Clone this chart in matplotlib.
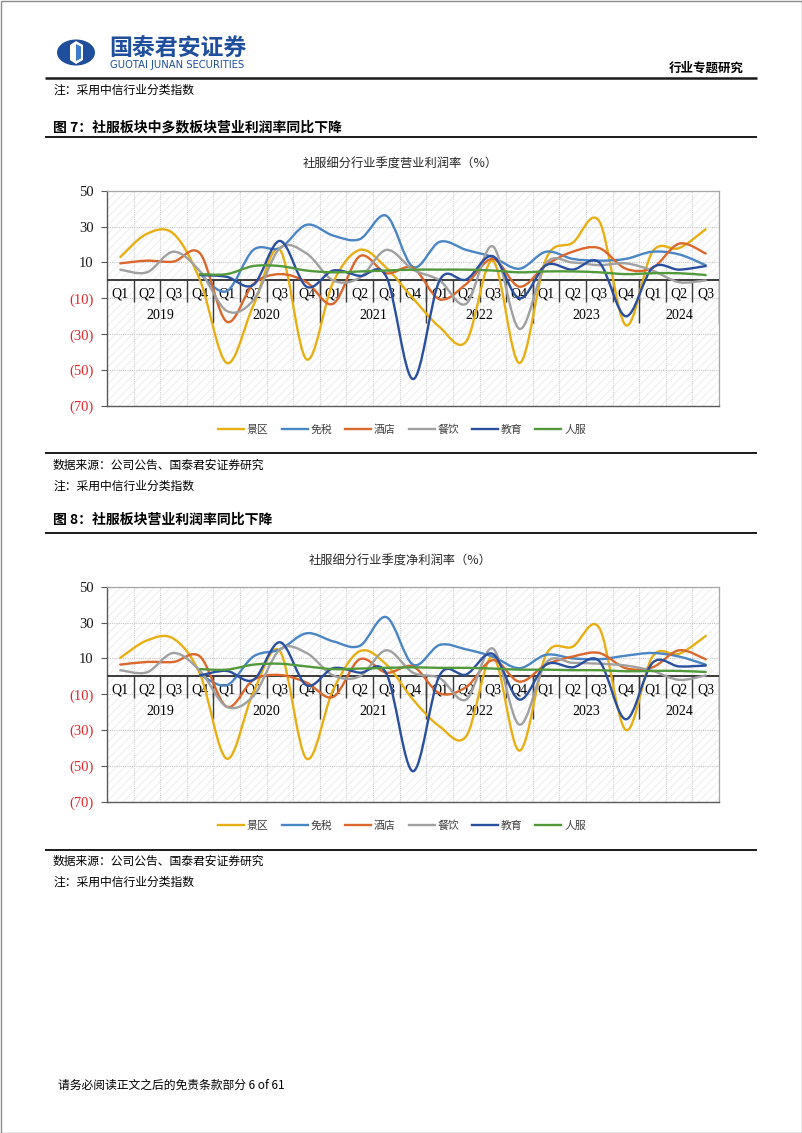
import numpy as np
import matplotlib.pyplot as plt
from matplotlib.path import Path
from matplotlib.patches import PathPatch, Rectangle, Ellipse, Polygon
from matplotlib.lines import Line2D

CJK = ['Noto Sans CJK SC', 'DejaVu Sans']
SERIF = ['Liberation Serif', 'DejaVu Serif']

# --- data ---
quarters = ['Q1', 'Q2', 'Q3', 'Q4'] * 5 + ['Q1', 'Q2', 'Q3']
years = ['2019', '2020', '2021', '2022', '2023', '2024']
names = ['景区', '免税', '酒店', '餐饮', '教育', '人服']
colors = ['#E8AF14', '#4A85C4', '#DA672C', '#A0A0A0', '#2B4F9F', '#52993C']
N = None

# 图7 营业利润率 (%)
op_jingqu = [13, 26, 26, 0, -46, -14, 17, -44, -1, 17, 7, -10, -26, -34, 11, -46, 12, 21, 33, -25, 16, 18, 28.5]
op_mianshui = [N, N, N, 3.5, -6, 17, 18, 31, 25, 23, 36, 7.5, 21.5, 17, 13, 6.5, 16, 12, 11, 12, 16, 14.5, 8.5]
op_jiudian = [9.5, 11, 10.5, 15, -23, -2, 3.5, -1, -13, 13.5, 4, 7, -10.5, -2, 12, -3.5, 8.5, 16, 18, 6.5, 7, 20.5, 15]
op_canyin = [6, 4.5, 16, 5, -17, -11, 18, 15, 0, 1.5, 17, 6, 0, -13, 19, -27, 9.5, 10, 8.5, 9.5, 5.5, -1, 0]
op_jiaoyu = [N, N, N, 3, 2, -2.5, 22, -3.5, 5.5, 2.5, 2, -55, 0, 0.5, 13.5, -10, 8.5, 6, 10, -20, 7, 6, 8]
op_renfu = [N, N, N, 3.5, 3.5, 8, 8, 5.5, 4.5, 5, 5.5, 6, 6, 6, 5.5, 4.5, 5, 5, 4.5, 3.5, 4, 4, 3]

# 图8 净利润率 (%)
net_jingqu = [10.3, 20, 21, 1, -46, -9, 14, -46, -7.5, 14, 6.5, -13, -28, -33.5, 11, -41.5, 12, 16.5, 27, -30, 11, 12.5, 22.5]
net_mianshui = [N, N, N, 1, -5, 11, 15, 24, 19.5, 17, 33, 6.5, 17.5, 15, 11, 4.5, 12, 10, 9.5, 11.5, 13, 11, 6.5]
net_jiudian = [6.5, 8, 8, 11, -17, -2, 0.7, -3.5, -11.5, 9.5, 2, 5.5, -9.5, -6, 9, -3, 6.5, 11, 13, 4.5, 5, 14.5, 9.5]
net_canyin = [3.4, 2.2, 13, 3, -17, -11, 15, 13, 0.5, 0, 14.5, 2, -1, -13, 15.5, -27, 7.5, 7.5, 7, 6, 3, -2, 0.5]
net_jiaoyu = [N, N, N, 0.5, 3, -2, 19, -5, 4.5, 2, 1.5, -53, 0.5, 1, 12.5, -13, 6.5, 5, 8.5, -24, 7.5, 5.5, 6]
net_renfu = [N, N, N, 4, 3.7, 6.5, 7, 5.5, 4, 4.3, 4.7, 5, 4.7, 4.7, 4.3, 3.7, 3.7, 3.4, 3.4, 2.8, 3, 3, 2.4]

op_series = [op_jingqu, op_mianshui, op_jiudian, op_canyin, op_jiaoyu, op_renfu]
net_series = [net_jingqu, net_mianshui, net_jiudian, net_canyin, net_jiaoyu, net_renfu]

W, H = 802, 1133


def smooth_path(xs, ys):
    # excel-like smoothed line: bezier segments through the data points
    pts = np.column_stack([xs, ys]).astype(float)
    n = len(pts)
    verts = [pts[0]]
    codes = [Path.MOVETO]
    for i in range(n - 1):
        p0 = pts[max(i - 1, 0)]
        p1, p2 = pts[i], pts[i + 1]
        p3 = pts[min(i + 2, n - 1)]
        verts += [p1 + (p2 - p0) / 6, p2 - (p3 - p1) / 6, p2]
        codes += [Path.CURVE4] * 3
    return Path(verts, codes)


def draw_chart(ax, series):
    n = len(quarters)
    ax.set_xlim(-0.5, n - 0.5)
    ax.set_ylim(-70, 50)
    ax.add_patch(Rectangle((0, 0), 1, 1, transform=ax.transAxes, facecolor='white',
                           edgecolor='#F2F2F2', lw=0, hatch='////', zorder=0))
    bounds = np.arange(n + 1) - 0.5
    for b in bounds[1:-1]:
        ax.axvline(b, color='#D2D2D2', lw=0.8, ls=(0, (1, 1)), zorder=1)
    for yv in range(-50, 50, 20):
        ax.axhline(yv, color='#C8C8C8', lw=0.8, ls=(0, (1, 1)), zorder=1)

    # category axis crossing at zero
    ax.axhline(0, color='#3A3A3A', lw=1.4, zorder=3)
    ax.vlines(bounds[1:-1], -12, 0, color='#3A3A3A', lw=1.0, zorder=3)
    ax.vlines(bounds[4::4].tolist() + [bounds[-1]], -24, 0, color='#3A3A3A', lw=1.0, zorder=3)
    for i, q in enumerate(quarters):
        ax.text(i, -7.6, q, ha='center', va='center', fontsize=10, family=SERIF, zorder=3)
    for k, yr in enumerate(years):
        idx = [i for i in range(n) if i // 4 == k]
        ax.text(np.mean(idx), -19.7, yr, ha='center', va='center', fontsize=10,
                family=SERIF, zorder=3)

    x = np.arange(n)
    for vals, c in zip(series, colors):
        v = np.array([np.nan if t is None else t for t in vals], dtype=float)
        ok = ~np.isnan(v)
        ax.add_patch(PathPatch(smooth_path(x[ok], v[ok]), fill=False, edgecolor=c,
                               lw=1.7, zorder=4, capstyle='round', joinstyle='round'))

    ax.set_xticks([])
    yt = list(range(-70, 51, 20))
    ax.set_yticks(yt)
    ax.set_yticklabels([f'({-t})' if t < 0 else str(t) for t in yt], family=SERIF, fontsize=10.5)
    for lab, t in zip(ax.get_yticklabels(), yt):
        lab.set_color('#E3262A' if t < 0 else '#1A1A1A')
    ax.tick_params(axis='y', length=4.5, width=0.8, color='#595959', pad=5)
    for s in ['left', 'bottom']:
        ax.spines[s].set_color('#595959')
        ax.spines[s].set_linewidth(1.0)
    for s in ['top', 'right']:
        ax.spines[s].set_color('#A6A6A6')
        ax.spines[s].set_linewidth(0.9)


fig = plt.figure(figsize=(W / 100, H / 100), dpi=100)

# page furniture in pixel coordinates
pg = fig.add_axes([0, 0, 1, 1], zorder=-1)
pg.set_xlim(0, W)
pg.set_ylim(H, 0)
pg.axis('off')
pg.add_patch(Rectangle((0.5, 0.5), W - 1, H - 1, fill=False, ec='#8C8C8C', lw=1))

# logo
pg.add_patch(Ellipse((76, 52.5), 38, 26, fc='#1F4E9C', ec='none'))
pg.add_patch(Polygon([(70, 45), (76, 41), (83, 45), (83, 60), (76, 64), (70, 60)], fc='white', ec='none'))
pg.add_patch(Polygon([(76, 44), (81, 46.5), (81, 58.5), (76, 61)], fc='#3D7CC9', ec='none'))
pg.text(109, 49, '国泰君安证券', fontsize=16.5, fontweight='bold', color='#1F4E9C', va='center', family=CJK)
pg.text(110, 64.5, 'GUOTAI JUNAN SECURITIES', fontsize=7.2, color='#1F4E9C', va='center', family=['DejaVu Sans'])
pg.text(744, 68, '行业专题研究', fontsize=9, fontweight='bold', ha='right', va='center', family=CJK)

for yy, lw in [(78, 1.8), (137, 1.4), (453, 1.4), (533, 1.4), (850, 1.4)]:
    pg.plot([45, 757], [yy, yy], color='#1A1A1A', lw=lw, solid_capstyle='butt')

note = '注：采用中信行业分类指数'
src = '数据来源：公司公告、国泰君安证券研究'
pg.text(53, 90, note, fontsize=8.5, va='center', family=CJK)
pg.text(53, 127, '图 7：社服板块中多数板块营业利润率同比下降', fontsize=10, fontweight='bold', va='center', family=CJK)
pg.text(400, 164, '社服细分行业季度营业利润率（%）', fontsize=8.8, ha='center', va='center', color='#262626', family=CJK)
pg.text(53, 465, src, fontsize=8.5, va='center', family=CJK)
pg.text(53, 486, note, fontsize=8.5, va='center', family=CJK)
pg.text(53, 520, '图 8：社服板块营业利润率同比下降', fontsize=10, fontweight='bold', va='center', family=CJK)
pg.text(400, 561, '社服细分行业季度净利润率（%）', fontsize=8.8, ha='center', va='center', color='#262626', family=CJK)
pg.text(53, 861, src, fontsize=8.5, va='center', family=CJK)
pg.text(53, 882, note, fontsize=8.5, va='center', family=CJK)
pg.text(58, 1085, '请务必阅读正文之后的免责条款部分 6 of 61', fontsize=8.5, va='center', family=CJK)

# charts
left, width = 107 / W, 612 / W
ax1 = fig.add_axes([left, 1 - 406 / H, width, 215.3 / H])
draw_chart(ax1, op_series)
ax2 = fig.add_axes([left, 1 - 801.7 / H, width, 215 / H])
draw_chart(ax2, net_series)

handles = [Line2D([], [], color=c, lw=1.7) for c in colors]
for ycen in (430, 826):
    fig.legend(handles, names, loc='center', bbox_to_anchor=(402 / W, 1 - ycen / H), ncol=6,
               frameon=False, handlelength=2.4, handletextpad=0.25, columnspacing=1.2,
               prop={'family': CJK, 'size': 7.8}, labelcolor='#404040')

fig.savefig('out.png', dpi=100)
